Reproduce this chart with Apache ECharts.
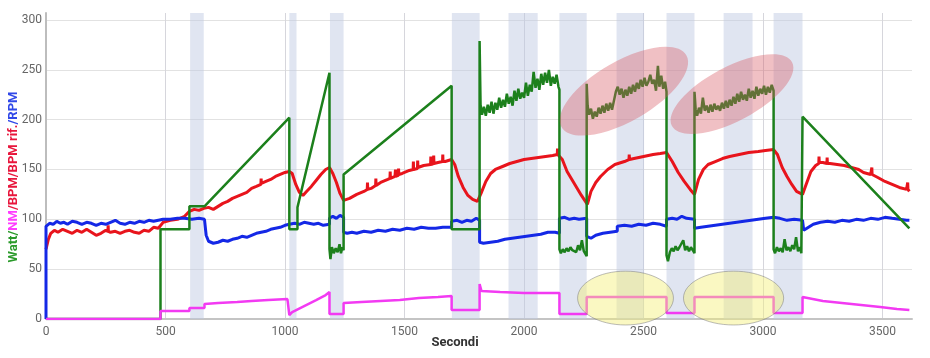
<!DOCTYPE html>
<html>
<head>
<meta charset="utf-8">
<script src="https://cdn.jsdelivr.net/npm/echarts@6/dist/echarts.min.js"></script>
<style>html,body{margin:0;padding:0;background:#fff}#c{width:930px;height:358px}</style>
</head>
<body>
<div id="c"></div>
<script>
// ---- data (seconds, value) ----
const xTicks = [0, 500, 1000, 1500, 2000, 2500, 3000, 3500];
const yTicks = [0, 50, 100, 150, 200, 250, 300];

const wattData = [
[0,0],[479,0],[479,90],[600,90],[600,113],[663,113],[1018,202],[1018,90],[1052,90],[1052,112],[1186,247],[1186,70],[1190,60],[1196,72],[1204,66],[1212,71],[1220,67],[1228,75],[1234,66],[1240,72],[1245,69],[1245,145],[1697,234],[1697,90],[1814,90],[1814,279],[1818,215],[1824,205],[1832,213],[1840,204],[1848,215],[1856,207],[1864,218],[1872,206],[1880,217],[1888,210],[1896,222],[1904,212],[1912,220],[1920,213],[1928,226],[1936,216],[1944,223],[1952,214],[1960,229],[1968,219],[1976,231],[1984,221],[1992,227],[2000,222],[2008,237],[2016,224],[2024,235],[2032,228],[2040,248],[2048,232],[2056,241],[2064,230],[2072,246],[2080,235],[2088,247],[2096,237],[2104,250],[2112,234],[2120,243],[2128,236],[2136,245],[2144,233],[2148,230],[2148,70],[2154,66],[2162,70],[2170,67],[2178,71],[2186,68],[2194,72],[2202,69],[2210,71],[2218,67],[2226,74],[2234,69],[2242,79],[2250,68],[2256,70],[2262,63],[2262,236],[2266,214],[2272,205],[2280,211],[2288,201],[2296,208],[2304,203],[2312,212],[2320,206],[2328,214],[2336,207],[2344,216],[2352,209],[2360,217],[2368,210],[2376,212],[2384,228],[2392,233],[2400,225],[2408,231],[2416,222],[2424,230],[2432,224],[2440,233],[2448,226],[2456,235],[2464,228],[2472,237],[2480,231],[2488,240],[2496,233],[2504,242],[2512,234],[2520,238],[2528,245],[2536,236],[2544,240],[2552,229],[2560,254],[2566,233],[2574,244],[2582,231],[2590,238],[2596,228],[2596,64],[2602,58],[2610,67],[2618,71],[2626,68],[2634,73],[2642,69],[2650,72],[2658,70],[2666,79],[2674,69],[2682,73],[2690,68],[2698,72],[2706,69],[2713,66],[2713,228],[2718,210],[2724,204],[2732,212],[2740,206],[2748,222],[2756,209],[2764,214],[2772,207],[2780,215],[2788,208],[2796,216],[2804,210],[2812,214],[2820,209],[2828,217],[2836,211],[2844,219],[2852,212],[2860,220],[2868,214],[2876,223],[2884,216],[2892,226],[2900,218],[2908,228],[2916,220],[2924,225],[2932,219],[2940,231],[2948,222],[2956,229],[2964,221],[2972,233],[2980,224],[2988,231],[2996,226],[3004,234],[3012,225],[3020,233],[3028,227],[3036,235],[3044,229],[3044,70],[3050,66],[3058,72],[3066,68],[3074,71],[3082,67],[3090,80],[3098,69],[3106,72],[3114,68],[3122,74],[3130,70],[3138,82],[3146,68],[3154,72],[3160,66],[3165,67],[3165,203],[3612,91]
];

const nmData = [
[0,0],[479,0],[479,8],[600,8],[600,11],[663,11],[663,15],[720,16],[800,17],[860,18],[930,19],[1010,20],[1018,20],[1018,4],[1030,7],[1080,13],[1130,19],[1170,24],[1186,27],[1186,5],[1245,5],[1245,16],[1320,17],[1400,18],[1480,19],[1560,21],[1640,22],[1697,23],[1697,9],[1814,9],[1814,35],[1822,28],[1900,27],[2000,26],[2148,26],[2148,5],[2262,5],[2262,22],[2596,22],[2596,6],[2713,6],[2713,22],[3044,22],[3044,6],[3165,6],[3165,22],[3172,20],[3250,18],[3330,16],[3410,14],[3490,12],[3560,10],[3612,9]
];

const bpmData = [
[0,70],[10,80],[20,86],[35,89],[50,87],[70,90],[90,88],[110,86],[130,89],[150,87],[170,90],[190,87],[210,84],[230,86],[250,89],[259,88],[260,94],[261,88],[270,87],[290,88],[310,86],[330,88],[350,89],[370,87],[390,86],[410,89],[430,88],[450,92],[470,91],[490,97],[520,99],[550,100],[580,103],[600,108],[620,110],[640,109],[660,111],[680,112],[700,110],[720,113],[740,116],[760,118],[780,121],[800,123],[820,125],[840,127],[860,131],[880,133],[899,135],[900,141],[901,136],[920,138],[940,140],[960,143],[980,145],[1000,147],[1018,148],[1030,146],[1045,135],[1060,127],[1075,124],[1090,128],[1110,133],[1130,139],[1150,145],[1170,150],[1186,152],[1200,146],[1215,137],[1230,126],[1245,119],[1253,117],[1270,121],[1300,125],[1330,128],[1344,130],[1345,137],[1346,130],[1360,131],[1379,134],[1380,141],[1381,134],[1400,137],[1430,140],[1439,141],[1440,148],[1441,141],[1460,143],[1461,143],[1462,150],[1463,143],[1474,144],[1475,151],[1476,145],[1490,146],[1520,149],[1536,150],[1537,158],[1538,150],[1554,151],[1555,159],[1556,152],[1580,154],[1609,155],[1610,163],[1611,155],[1621,156],[1622,164],[1623,156],[1640,157],[1659,158],[1660,165],[1661,158],[1670,158],[1697,160],[1710,155],[1725,143],[1745,132],[1765,124],[1785,120],[1805,118],[1820,126],[1840,138],[1860,146],[1880,150],[1910,153],[1940,156],[1970,158],[2000,160],[2030,161],[2060,162],[2090,163],[2120,164],[2139,165],[2140,171],[2141,165],[2148,165],[2160,160],[2180,148],[2200,140],[2220,132],[2240,124],[2265,115],[2280,128],[2300,137],[2320,143],[2350,150],[2380,155],[2420,158],[2439,160],[2440,165],[2441,160],[2460,161],[2500,163],[2540,165],[2570,166],[2596,167],[2620,158],[2645,147],[2670,138],[2695,130],[2713,125],[2730,140],[2750,150],[2770,155],[2800,158],[2830,161],[2860,163],[2900,165],[2940,167],[2980,168],[3010,169],[3044,170],[3060,165],[3080,152],[3100,143],[3120,135],[3140,128],[3165,125],[3180,135],[3200,148],[3220,154],[3233,156],[3234,163],[3235,157],[3250,157],[3267,156],[3268,162],[3269,156],[3280,156],[3310,155],[3340,154],[3370,152],[3400,150],[3420,147],[3450,145],[3454,145],[3455,152],[3456,145],[3480,142],[3510,138],[3540,135],[3570,132],[3600,130],[3604,131],[3605,137],[3606,130],[3612,128]
];

const rpmData = [
[0,0],[0,93],[15,96],[30,95],[45,98],[60,96],[75,97],[90,95],[110,98],[130,97],[150,95],[170,97],[190,96],[210,94],[230,96],[250,95],[270,97],[290,99],[310,96],[330,95],[350,97],[370,96],[390,98],[410,97],[430,99],[450,98],[470,99],[490,100],[520,100],[550,101],[580,101],[610,100],[640,101],[663,100],[670,84],[680,78],[700,76],[720,77],[740,79],[760,78],[780,80],[800,81],[820,83],[840,82],[860,84],[880,86],[900,87],[920,88],[940,90],[960,91],[980,92],[1000,94],[1018,95],[1040,96],[1060,95],[1080,97],[1100,96],[1120,95],[1140,96],[1160,94],[1186,95],[1186,101],[1200,103],[1215,101],[1230,104],[1245,102],[1245,87],[1260,86],[1280,87],[1300,86],[1330,88],[1360,87],[1390,89],[1420,88],[1450,90],[1480,89],[1510,91],[1540,90],[1570,92],[1600,91],[1630,91],[1660,92],[1697,92],[1697,98],[1720,99],[1740,97],[1760,99],[1780,98],[1800,101],[1814,99],[1814,77],[1830,76],[1860,77],[1890,78],[1920,80],[1950,81],[1980,82],[2010,83],[2040,84],[2070,85],[2100,87],[2130,87],[2148,86],[2148,101],[2170,102],[2190,100],[2210,101],[2230,100],[2262,101],[2262,83],[2280,81],[2300,84],[2330,86],[2360,87],[2390,88],[2390,93],[2420,94],[2450,93],[2480,95],[2510,94],[2540,96],[2570,95],[2596,93],[2596,100],[2620,101],[2640,100],[2660,103],[2680,101],[2713,100],[2713,91],[2740,92],[2770,93],[2800,94],[2830,95],[2860,96],[2890,97],[2920,98],[2950,99],[2980,100],[3010,101],[3044,102],[3044,100],[3070,101],[3100,99],[3130,100],[3165,99],[3170,89],[3190,92],[3210,95],[3240,97],[3270,98],[3300,97],[3330,99],[3360,98],[3390,100],[3420,99],[3450,101],[3480,100],[3510,102],[3540,101],[3570,100],[3600,99],[3612,99]
];

// shaded intervals (seconds)
const bands = [[603,660],[1018,1048],[1188,1245],[1698,1814],[1935,2057],[2148,2262],[2387,2502],[2596,2713],[2835,2956],[3044,3165]];
// highlighted zones: [tStart, tEnd, vLow, vHigh] in data units
const nmZones = [[2224,2625,-6,48],[2667,3086,-6,48]];
// Watt zones: centre [t, v]
const wattZones = [[2418,228.6],[2870,225.6]];

const chart = echarts.init(document.getElementById('c'), null, {renderer:'canvas'});
const font = 'Roboto, "Noto Sans", sans-serif';
const ynameStyle = {fontWeight:'bold', fontSize:13, fontFamily:font};

const option = {
  animation:false,
  grid:{left:46, right:18, top:13, bottom:39, outerBoundsMode:'none', containLabel:false},
  xAxis:{
    type:'value', min:0, max:3623, interval:500,
    name:'Secondi', nameLocation:'middle', nameGap:17, nameMoveOverlap:false,
    nameTextStyle:{color:'#333', fontWeight:'bold', fontSize:13, fontFamily:font, verticalAlign:'top', padding:[0,48,0,0]},
    axisLine:{lineStyle:{color:'#c4c4c4', width:2}},
    axisTick:{show:false},
    axisLabel:{color:'#666', fontSize:12, fontFamily:font, margin:7, formatter:v => xTicks.includes(v)? String(v):''},
    splitLine:{show:true, showMinLine:false, showMaxLine:false, lineStyle:{color:'#d6d6dc', width:1}}
  },
  yAxis:{
    type:'value', min:0, max:307, interval:50,
    name:'{g|Watt/}{m|NM}{r|/BPM/BPM rif.}{b|/RPM}', nameLocation:'middle', nameGap:26, nameMoveOverlap:false,
    nameTextStyle:{fontWeight:'bold', fontSize:13, fontFamily:font, padding:[0,22,0,0],
      rich:{g:Object.assign({color:'#2a9a2a'},ynameStyle), m:Object.assign({color:'#ff3cff'},ynameStyle), r:Object.assign({color:'#e8163c'},ynameStyle), b:Object.assign({color:'#3048e8'},ynameStyle)}},
    axisLine:{show:true, lineStyle:{color:'#bdbdbd', width:2}},
    axisTick:{show:false},
    axisLabel:{color:'#666', fontSize:12, fontFamily:font, margin:4, formatter:v => yTicks.includes(v)? String(v):''},
    splitLine:{show:true, showMinLine:false, showMaxLine:false, lineStyle:{color:'#e2e2e2', width:1}}
  },
  series:[
    {type:'line', data:[], z:1, silent:true,
     markArea:{silent:true, itemStyle:{color:'rgba(190,200,225,0.47)'}, data:bands.map(b=>[{xAxis:b[0]},{xAxis:b[1]}])}},
    {name:'BPM', type:'line', data:bpmData, showSymbol:false, lineStyle:{color:'#e8141c', width:3}, z:3},
    {name:'RPM', type:'line', data:rpmData, showSymbol:false, lineStyle:{color:'#1428e6', width:3}, z:3},
    {name:'Watt', type:'line', data:wattData, showSymbol:false, lineStyle:{color:'#1c801c', width:2.5}, z:4},
    {name:'NM', type:'line', data:nmData, showSymbol:false, lineStyle:{color:'#f23af2', width:2.5}, z:4}
  ]
};
chart.setOption(option);

const gfx = [];
nmZones.forEach(z => {
  const p1 = chart.convertToPixel({gridIndex:0}, [z[0], z[3]]);
  const p2 = chart.convertToPixel({gridIndex:0}, [z[1], z[2]]);
  gfx.push({type:'ellipse', z:100, silent:true,
    shape:{cx:(p1[0]+p2[0])/2, cy:(p1[1]+p2[1])/2, rx:Math.abs(p2[0]-p1[0])/2, ry:Math.abs(p2[1]-p1[1])/2},
    style:{fill:'rgba(245,240,120,0.45)', stroke:'rgba(120,120,120,0.5)', lineWidth:1}});
});
const wattAxes = [[72,30,30],[68,27,28]];
wattZones.forEach((z,i) => {
  const c = chart.convertToPixel({gridIndex:0}, z);
  gfx.push({type:'ellipse', z:100, silent:true, x:c[0], y:c[1], rotation:wattAxes[i][2]*Math.PI/180,
    shape:{cx:0, cy:0, rx:wattAxes[i][0], ry:wattAxes[i][1]},
    style:{fill:'rgba(215,90,100,0.38)'}});
});
chart.setOption({graphic:gfx});
</script>
</body>
</html>
